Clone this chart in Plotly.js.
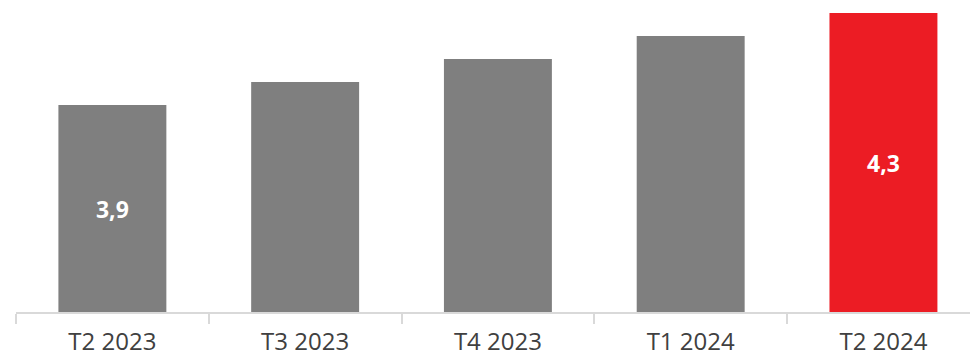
<!DOCTYPE html>
<html>
<head>
<meta charset="utf-8">
<script src="https://cdn.plot.ly/plotly-3.0.1.min.js"></script>
<style>html,body{margin:0;padding:0;background:#fff;}#chart{width:970px;height:359px;}</style>
</head>
<body>
<div id="chart"></div>
<script>
const categories = ["T2 2023", "T3 2023", "T4 2023", "T1 2024", "T2 2024"];
const values = [3.9, 4.0, 4.1, 4.2, 4.3];
const showLabel = [true, false, false, false, true];
const barColors = ["#7f7f7f", "#7f7f7f", "#7f7f7f", "#7f7f7f", "#ec1c24"];
const axisBase = 3.0;

const labels = values.map((v, i) => showLabel[i] ? v.toFixed(1).replace('.', ',') : "");

const trace = {
  type: "bar",
  x: categories,
  y: values.map(v => v - axisBase),
  base: axisBase,
  marker: {color: barColors},
  width: 0.56,
  text: labels,
  textposition: "inside",
  insidetextanchor: "middle",
  textfont: {family: "Open Sans", size: 23, color: "#ffffff", weight: "bold"},
  hoverinfo: "none"
};

const layout = {
  width: 970,
  height: 359,
  margin: {l: 16, r: 0, t: 0, b: 47},
  paper_bgcolor: "#ffffff",
  plot_bgcolor: "#ffffff",
  showlegend: false,
  xaxis: {
    type: "category",
    range: [-0.5, 4.449],
    tickson: "boundaries",
    ticks: "outside",
    ticklen: 10,
    tickcolor: "#d9d9d9",
    tickwidth: 2,
    showline: true,
    linecolor: "#d9d9d9",
    linewidth: 2,
    showgrid: false,
    tickfont: {family: "Open Sans", size: 24, color: "#404040"},
    ticklabelstandoff: 7
  },
  yaxis: {
    range: [3.0, 4.357],
    visible: false,
    showgrid: false,
    zeroline: false
  }
};

Plotly.newPlot("chart", [trace], layout, {staticPlot: true, displayModeBar: false});
</script>
</body>
</html>
